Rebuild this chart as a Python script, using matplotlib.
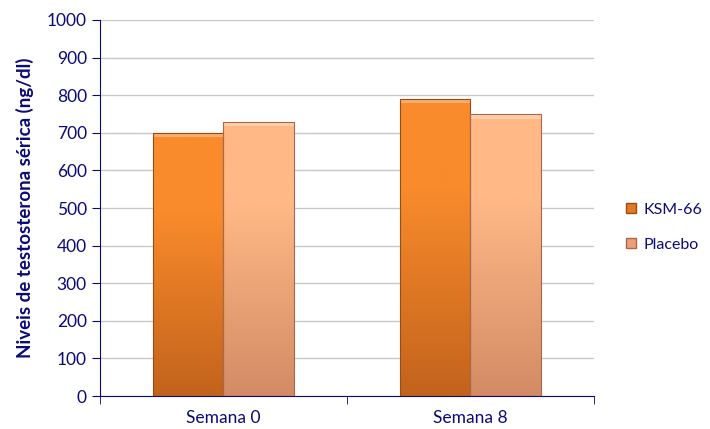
import numpy as np
import matplotlib.pyplot as plt
from matplotlib.colors import LinearSegmentedColormap
from matplotlib.patches import Patch

# Data
categories = ['Semana 0', 'Semana 8']
ksm66 = [700, 790]
placebo = [730, 750]
series_names = ['KSM-66', 'Placebo']

navy = '#0a0a78'
plt.rcParams['font.family'] = ['Lato', 'DejaVu Sans']

fig = plt.figure(figsize=(7.1, 4.29), dpi=100)
ax = fig.add_axes([0.1408, 0.0769, 0.6958, 0.8765])

x = np.arange(len(categories))
w = 0.285

def gradient_bars(xpos, vals, top, bottom, edge):
    bars = ax.bar(xpos, vals, w, color='none', edgecolor=edge, linewidth=0.8, zorder=3)
    cmap = LinearSegmentedColormap.from_list('g', [(0, bottom), (0.7, top), (1, top)])
    grad = np.linspace(0, 1, 256).reshape(-1, 1)
    for b in bars:
        x0, y0 = b.get_x(), b.get_y()
        im = ax.imshow(grad, cmap=cmap, origin='lower', aspect='auto',
                       extent=[x0, x0 + b.get_width(), y0, y0 + b.get_height()], zorder=2)
        im.set_clip_path(b)
        # light bevel on top
        ax.fill_between([x0, x0 + b.get_width()], b.get_height() - 12, b.get_height(),
                        color='white', alpha=0.3, zorder=2.5, linewidth=0)
    return bars

gradient_bars(x - w / 2, ksm66, '#f98b2c', '#c2631c', '#9a4c12')
gradient_bars(x + w / 2, placebo, '#ffb886', '#d38b65', '#a8684a')

ax.set_xlim(-0.5, 1.5)
ax.set_ylim(0, 1000)
ax.set_yticks(range(0, 1001, 100))
ax.set_xticks(x)
ax.set_xticklabels(categories)
ax.set_xticks([-0.5, 0.5, 1.5], minor=True)
ax.tick_params(axis='x', which='major', length=0, pad=10, labelsize=12.5, labelcolor=navy)
ax.tick_params(axis='x', which='minor', length=6, color=navy, direction='out')
ax.tick_params(axis='y', length=6, color=navy, labelsize=12.5, labelcolor=navy)
ax.yaxis.grid(True, color='#c8c8c8', linewidth=1)
ax.set_axisbelow(True)
for s in ['top', 'right']:
    ax.spines[s].set_visible(False)
for s in ['left', 'bottom']:
    ax.spines[s].set_color(navy)
ax.set_ylabel('Niveis de testosterona sérica (ng/dl)', color=navy, fontsize=13.5,
              fontweight='bold', labelpad=9)

handles = [Patch(facecolor='#e07a24', edgecolor='#9a4c12'),
           Patch(facecolor='#eba07a', edgecolor='#a8684a')]
fig.legend(handles, series_names, loc='center left', bbox_to_anchor=(0.882, 0.47),
           frameon=False, fontsize=11.5, labelcolor=navy, handlelength=0.6,
           handleheight=0.6, handletextpad=0.5, labelspacing=1.3,
           borderpad=0, borderaxespad=0)

fig.savefig('out.png', dpi=100)
